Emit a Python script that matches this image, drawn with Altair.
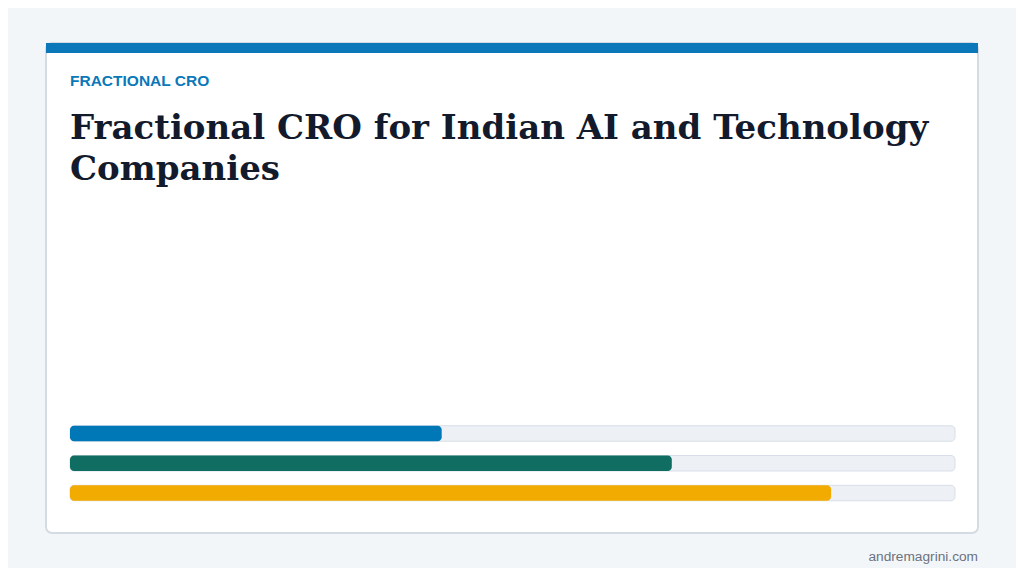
"""Carte « Fractional CRO » : trois barres de progression."""

import altair as alt
import pandas as pd

# Données
rows = ["a", "b", "c"]
values = [42, 68, 86]
maximum = [100, 100, 100]
colors = ["#0077b6", "#0f6e61", "#f2ab00"]

kicker = "FRACTIONAL CRO"
headline = ["Fractional CRO for Indian AI and Technology", "Companies"]
footer = "andremagrini.com"

W, H = 932, 490

bars_df = pd.DataFrame({"row": rows, "value": values, "max": maximum, "color": colors})

x_scale = alt.Scale(domain=[0, 100], range=[24, 909])
y_scale = alt.Scale(domain=rows, range=[382.75, 457.75], paddingInner=0.48, paddingOuter=0)

base = alt.Chart(bars_df).encode(
    y=alt.Y("row:N", scale=y_scale, axis=None),
)

track = base.mark_bar(
    cornerRadius=4, fill="#edf1f6", stroke="#d8dee7", strokeWidth=1
).encode(
    x=alt.X("zero:Q", scale=x_scale, axis=None),
    x2="max:Q",
).transform_calculate(zero="0")

fill = base.mark_bar(cornerRadius=4).encode(
    x=alt.X("zero:Q", scale=x_scale, axis=None),
    x2="value:Q",
    color=alt.Color("color:N", scale=None, legend=None),
).transform_calculate(zero="0")

top_band = alt.Chart(pd.DataFrame({"k": [0]})).mark_rect(color="#0a78b9").encode(
    x=alt.value(0), x2=alt.value(W), y=alt.value(0), y2=alt.value(10)
)

signature = alt.Chart(pd.DataFrame({"t": [footer]})).mark_text(
    align="right", baseline="alphabetic", font="Liberation Sans", fontSize=13.7, color="#6b7280"
).encode(text="t:N", x=alt.value(W), y=alt.value(518))

chart = (
    alt.layer(top_band, track, fill, signature)
    .properties(
        width=W,
        height=H,
        padding={"left": 38, "top": 35, "right": 38, "bottom": 35},
        autosize=alt.AutoSizeParams(type="none"),
        background="#f3f6f9",
        title=alt.TitleParams(
            text=kicker,
            subtitle=headline,
            anchor="start",
            frame="group",
            orient="top",
            offset=-144,
            dx=24,
            font="Liberation Sans",
            fontSize=15.5,
            fontWeight="bold",
            color="#0a78b9",
            subtitleFont="DejaVu Serif",
            subtitleFontSize=34,
            subtitleFontWeight="bold",
            subtitleColor="#121a2c",
            subtitleLineHeight=41,
            subtitlePadding=23,
        ),
    )
    .configure_view(fill="white", stroke="#d5dbe3", strokeWidth=2, cornerRadius=6)
)

chart.save("out.html", embed_options={"renderer": "svg", "actions": False})
